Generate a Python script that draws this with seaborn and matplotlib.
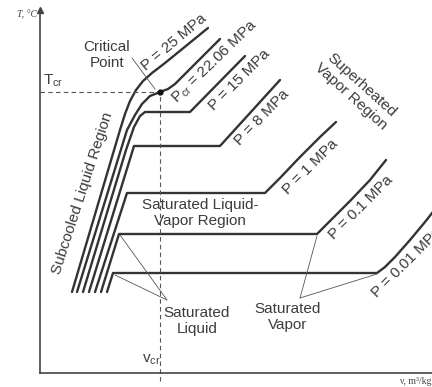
import matplotlib
matplotlib.use("Agg")
import matplotlib.pyplot as plt
import pandas as pd
import seaborn as sns


# ===================== DATA =====================
# schematic T-v diagram, units are arbitrary
isobar_names = ["25", "22.06", "15", "8", "1", "0.1", "0.01"]

v_25 = [32, 80, 85, 90, 96, 103, 112, 125, 168]
T_25 = [81, 243, 259, 272, 283, 292, 300, 310, 345]

v_2206 = [37, 87, 95, 102, 110, 120, 128, 135, 180]
T_2206 = [81, 243, 258, 269, 277, 281, 284, 289, 334]

v_15 = [43, 86, 94, 100, 105, 150, 205]
T_15 = [81, 223, 246, 257, 261, 261, 317]

v_8 = [49, 94, 180, 200, 220, 240]
T_8 = [81, 227, 227, 249, 271, 293]

v_1 = [55, 87, 225, 240, 260, 280, 296]
T_1 = [81, 180, 180, 195, 216, 236, 251]

v_01 = [61, 79, 277, 290, 310, 330, 346]
T_01 = [81, 139, 139, 152, 172, 193, 213]

v_001 = [67, 73, 337, 345, 355, 370, 385, 396]
T_001 = [81, 100, 100, 106, 116, 133, 151, 165]

v_cr = 120
T_cr = 281

isobar_labels = ["P = 25 MPa", r"P$_{\rm cr}$ = 22.06 MPa", "P = 15 MPa", "P = 8 MPa",
                 "P = 1 MPa", "P = 0.1 MPa", "P = 0.01 MPa"]
label_v = [134, 175, 199, 222, 270, 321, 367]
label_T = [331, 311, 293, 255, 206, 166, 111]
label_rot = [40, 44, 45, 46, 45, 45, 45]

# leader lines: (from text) -> (to point)
sat_liq_from = (127, 73)
sat_liq_to = [(80, 138), (75, 98)]
sat_vap_from = (260, 75)
sat_vap_to = [(277, 137), (337, 99)]
cp_from = (92, 315)
cp_to = (115, 284)

# ===================== STYLE =====================
sns.set_theme(style="white")
plt.rcParams["font.family"] = ["Liberation Sans", "DejaVu Sans"]
plt.rcParams["mathtext.fontset"] = "custom"
plt.rcParams["mathtext.rm"] = "Liberation Sans"
plt.rcParams["mathtext.it"] = "Liberation Sans"

line_col = "#333333"
text_col = "#3c3c3c"
fs = 11

# ===================== FIGURE =====================
fig = plt.figure(figsize=(4.32, 3.87), dpi=100)
ax = fig.add_axes([40 / 432, 14 / 387, 392 / 432, 363 / 387])

rows = []
for name, vs, Ts in zip(
    isobar_names,
    [v_25, v_2206, v_15, v_8, v_1, v_01, v_001],
    [T_25, T_2206, T_15, T_8, T_1, T_01, T_001],
):
    for v, T in zip(vs, Ts):
        rows.append({"isobar": name, "v": v, "T": T})
df = pd.DataFrame(rows)

sns.lineplot(data=df, x="v", y="T", units="isobar", estimator=None, sort=False,
             color=line_col, lw=1.7, ax=ax, legend=False)

ax.set_xlim(0, 392)
ax.set_ylim(0, 363)
ax.set_xlabel("")
ax.set_ylabel("")
ax.set_xticks([])
ax.set_yticks([])
for side in ["top", "right"]:
    ax.spines[side].set_visible(False)
for side in ["left", "bottom"]:
    ax.spines[side].set_color("#444444")
    ax.spines[side].set_linewidth(1.2)

# arrow head on T axis
ax.plot([0], [1], marker="^", ms=4, color="#444444", transform=ax.transAxes, clip_on=False)

# critical point + dashed guides
ax.plot([0, v_cr], [T_cr, T_cr], ls=(0, (4, 3)), lw=0.8, color="#555555")
ax.plot([v_cr, v_cr], [-8, T_cr], ls=(0, (4, 3)), lw=0.8, color="#555555", clip_on=False)
ax.plot([v_cr], [T_cr], "o", ms=3.5, color="#111111")

# leaders
for tgt in sat_liq_to:
    ax.plot([sat_liq_from[0], tgt[0]], [sat_liq_from[1], tgt[1]], lw=0.6, color="#555555")
for tgt in sat_vap_to:
    ax.plot([sat_vap_from[0], tgt[0]], [sat_vap_from[1], tgt[1]], lw=0.6, color="#555555")
ax.plot([cp_from[0], cp_to[0]], [cp_from[1], cp_to[1]], lw=0.6, color="#555555")

# ===================== TEXT =====================
for lab, x, y, r in zip(isobar_labels, label_v, label_T, label_rot):
    ax.text(x, y, lab, rotation=r, ha="center", va="center", fontsize=fs,
            color=text_col, rotation_mode="anchor", clip_on=False)

kw = dict(ha="center", va="center", fontsize=fs, color=text_col, multialignment="center")
ax.text(67, 318, "Critical\nPoint", **kw)
ax.text(316, 282, "Superheated\nVapor Region", rotation=-42, rotation_mode="anchor", **kw)
ax.text(43, 180, "Subcooled Liquid Region", rotation=72, rotation_mode="anchor", **kw)
ax.text(160, 160, "Saturated Liquid-\nVapor Region", **kw)
ax.text(157, 52, "Saturated\nLiquid", **kw)
ax.text(248, 56, "Saturated\nVapor", **kw)

ax.text(3, 288, r"T$_{\rm cr}$", ha="left", va="baseline", fontsize=fs, color=text_col)
ax.text(102, 10, r"v$_{\rm cr}$", ha="left", va="baseline", fontsize=fs, color=text_col)

fig.text(37 / 432, 1 - 15 / 387, "T, °C", ha="right", va="center", fontsize=7,
         family="Liberation Serif", style="italic", color="#444444")
fig.text(399 / 432, 1 - 382 / 387, "ν, m³/kg", ha="left", va="center", fontsize=7,
         family="Liberation Serif", color="#444444")

fig.savefig("out.png", dpi=100)
